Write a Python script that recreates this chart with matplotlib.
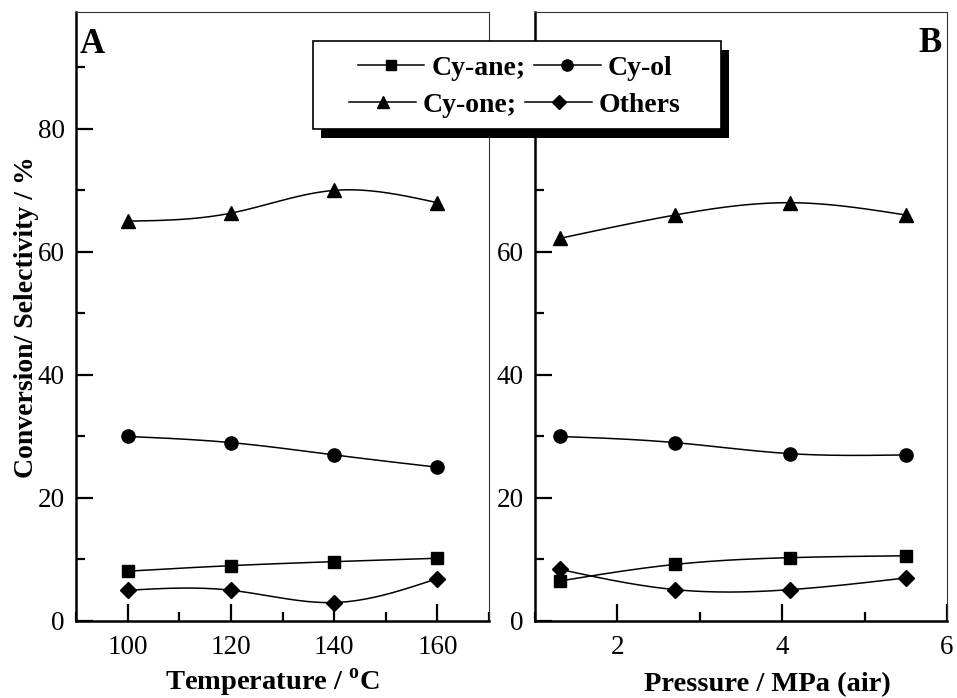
import numpy as np
import matplotlib
matplotlib.use("Agg")
import matplotlib.pyplot as plt
from matplotlib.lines import Line2D
from matplotlib.patches import Rectangle

plt.rcParams['font.family'] = ['Liberation Serif', 'DejaVu Serif']
plt.rcParams['mathtext.fontset'] = 'custom'
plt.rcParams['mathtext.rm'] = 'Liberation Serif:bold'

# Panel A: effect of temperature
temperature = [100, 120, 140, 160]
temp_cy_ane = [8.1, 9.0, 9.65, 10.2]
temp_cy_ol = [30.0, 29.0, 27.0, 25.0]
temp_cy_one = [65.0, 66.3, 70.0, 68.0]
temp_others = [5.0, 5.0, 3.0, 6.9]

# Panel B: effect of air pressure
pressure = [1.3, 2.7, 4.1, 5.5]
pres_cy_ane = [6.5, 9.2, 10.3, 10.6]
pres_cy_ol = [30.0, 29.0, 27.2, 27.0]
pres_cy_one = [62.2, 66.0, 68.0, 66.0]
pres_others = [8.4, 5.1, 5.1, 7.0]

series_names = ['Cy-ane;', 'Cy-ol', 'Cy-one;', 'Others']
series_markers = ['s', 'o', '^', 'D']
series_sizes = [9, 9.5, 10, 8]

y_ticks = [0, 20, 40, 60, 80]


def natural_spline(x, y, n=200):
    x = np.asarray(x, float)
    y = np.asarray(y, float)
    k = len(x)
    h = np.diff(x)
    A = np.zeros((k, k))
    b = np.zeros(k)
    A[0, 0] = A[-1, -1] = 1.0
    for i in range(1, k - 1):
        A[i, i - 1] = h[i - 1]
        A[i, i] = 2 * (h[i - 1] + h[i])
        A[i, i + 1] = h[i]
        b[i] = 6 * ((y[i + 1] - y[i]) / h[i] - (y[i] - y[i - 1]) / h[i - 1])
    M = np.linalg.solve(A, b)
    xs = np.linspace(x[0], x[-1], n)
    idx = np.clip(np.searchsorted(x, xs) - 1, 0, k - 2)
    x0, x1 = x[idx], x[idx + 1]
    hh = x1 - x0
    ys = (M[idx] * (x1 - xs) ** 3 / (6 * hh) + M[idx + 1] * (xs - x0) ** 3 / (6 * hh)
          + (y[idx] / hh - M[idx] * hh / 6) * (x1 - xs)
          + (y[idx + 1] / hh - M[idx + 1] * hh / 6) * (xs - x0))
    return xs, ys


W, H = 957, 698
fig = plt.figure(figsize=(W / 100, H / 100), dpi=100)

ax_a = fig.add_axes([76 / W, 1 - 621 / H, (489 - 76) / W, (621 - 12) / H])
ax_b = fig.add_axes([535 / W, 1 - 621 / H, (947 - 535) / W, (621 - 12) / H])


def style_axes(ax):
    ax.set_ylim(0, 99)
    ax.set_yticks(y_ticks)
    ax.set_yticks(np.arange(0, 100, 10), minor=True)
    ax.tick_params(which='both', direction='in', top=False, right=False,
                   width=1.6, labelsize=19.5)
    ax.tick_params(axis='x', pad=10)
    ax.tick_params(axis='y', pad=8)
    ax.tick_params(which='major', length=12)
    ax.tick_params(which='minor', length=6.5)
    for side in ('left', 'bottom'):
        ax.spines[side].set_linewidth(1.8)
    for side in ('top', 'right'):
        ax.spines[side].set_linewidth(0.8)
        ax.spines[side].set_color('#333333')


def draw_series(ax, x, ys):
    for y, m, ms in zip(ys, series_markers, series_sizes):
        xs, yy = natural_spline(x, y)
        ax.plot(xs, yy, color='black', lw=1.1, zorder=2)
        ax.plot(x, y, linestyle='none', marker=m, ms=ms, color='black', zorder=3)


draw_series(ax_a, temperature, [temp_cy_ane, temp_cy_ol, temp_cy_one, temp_others])
style_axes(ax_a)
ax_a.set_xlim(90, 170)
ax_a.set_xticks([100, 120, 140, 160])
ax_a.set_xticks([90, 110, 130, 150, 170], minor=True)

draw_series(ax_b, pressure, [pres_cy_ane, pres_cy_ol, pres_cy_one, pres_others])
style_axes(ax_b)
ax_b.set_xlim(1, 6)
ax_b.set_xticks([2, 4, 6])
ax_b.set_xticks([1, 3, 5], minor=True)

fig.text(27 / W, 1 - 317 / H, 'Conversion/ Selectivity / %', rotation=90,
         ha='center', va='center', fontsize=20, fontweight='bold')
fig.text(273 / W, 1 - 683 / H, r'Temperature / $^{\rm o}$C',
         ha='center', va='center', fontsize=20.5, fontweight='bold')
fig.text(767 / W, 1 - 685 / H, 'Pressure / MPa (air)',
         ha='center', va='center', fontsize=20.5, fontweight='bold')
fig.text(80 / W, 1 - 53 / H, 'A', fontsize=25, fontweight='bold',
         ha='left', va='baseline')
fig.text(942 / W, 1 - 52 / H, 'B', fontsize=25, fontweight='bold',
         ha='right', va='baseline')

# Legend box with a solid drop shadow
bx0, bx1, by0, by1 = 313, 721, 41, 129
fig.patches.append(Rectangle(((bx0 + 8) / W, 1 - (by1 + 9) / H), (bx1 - bx0) / W,
                             (by1 - by0) / H, transform=fig.transFigure,
                             facecolor='black', edgecolor='none', zorder=2))
fig.patches.append(Rectangle((bx0 / W, 1 - by1 / H), (bx1 - bx0) / W,
                             (by1 - by0) / H, transform=fig.transFigure,
                             facecolor='white', edgecolor='black', lw=1.2, zorder=3))

handles = [Line2D([], [], color='black', lw=1.1, marker=m, ms=ms * 0.85)
           for m, ms in zip(series_markers, series_sizes)]

# Two centred legend rows inside the box
for row, y_px in ((0, 68), (1, 105)):
    ids = [2 * row, 2 * row + 1]
    leg = fig.legend([handles[i] for i in ids], [series_names[i] for i in ids],
                     ncol=2, loc='center',
                     bbox_to_anchor=(515 / W, 1 - y_px / H),
                     frameon=False, prop={'weight': 'bold', 'size': 20},
                     handlelength=2.4, handletextpad=0.25, columnspacing=0.3,
                     borderpad=0.0, borderaxespad=0.0)
    leg.set_zorder(5)

fig.savefig('out.png', dpi=100)
